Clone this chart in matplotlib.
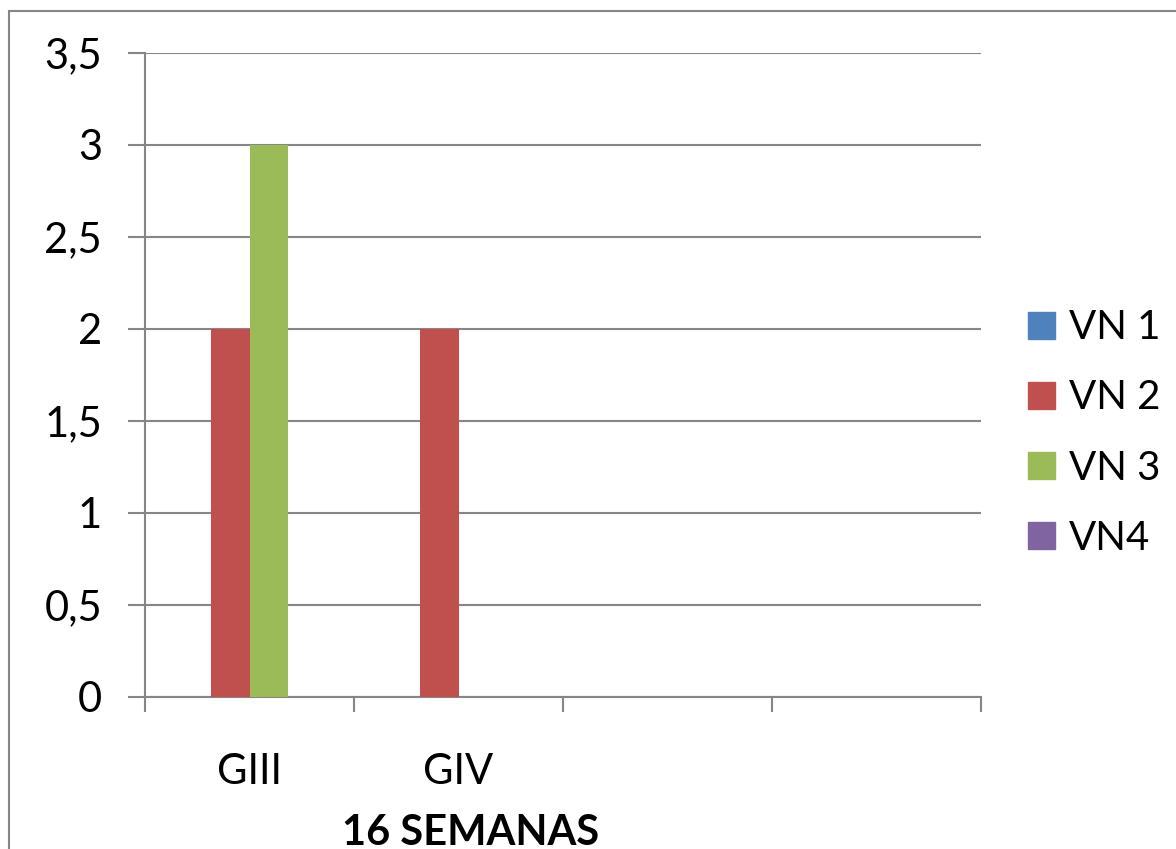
import numpy as np
import matplotlib.pyplot as plt
from matplotlib.patches import Rectangle, Patch

plt.rcParams['font.family'] = ['Lato', 'DejaVu Sans']

categorias = ["GIII", "GIV", "", ""]
series = ["VN 1", "VN 2", "VN 3", "VN4"]
vn1 = [0, 0, 0, 0]
vn2 = [2, 2, 0, 0]
vn3 = [3, 0, 0, 0]
vn4 = [0, 0, 0, 0]
colores = ["#4F81BD", "#C0504D", "#9BBB59", "#8064A2"]
yticks = [0, 0.5, 1, 1.5, 2, 2.5, 3, 3.5]
ylabels = ["0", "0,5", "1", "1,5", "2", "2,5", "3", "3,5"]

W, H = 1176, 849
fig = plt.figure(figsize=(W / 100, H / 100), dpi=100)
ax = fig.add_axes([145 / W, 1 - 697 / H, (981 - 145) / W, (697 - 53) / H])

x = np.arange(len(categorias))
ancho = 0.182
for i, vals in enumerate([vn1, vn2, vn3, vn4]):
    ax.bar(x + (i - 1.5) * ancho, vals, ancho, color=colores[i], zorder=3)

ax.set_xlim(-0.5, len(categorias) - 0.5)
ax.set_ylim(0, 3.5)
ax.set_yticks(yticks)
ax.set_yticklabels(ylabels)
ax.yaxis.grid(True, color="#868686", linewidth=1.5, zorder=0)

ax.set_xticks(x)
ax.set_xticklabels(categorias)
ax.set_xticks(np.arange(-0.5, len(categorias)), minor=True)
ax.tick_params(axis="x", which="major", length=0, pad=40, labelsize=30)
ax.tick_params(axis="x", which="minor", length=11, width=1.5, color="#868686")
ax.tick_params(axis="y", length=12, width=1.5, color="#868686", labelsize=30, pad=19)

for s in ["top", "right"]:
    ax.spines[s].set_visible(False)
ax.spines["left"].set_color("#868686")
ax.spines["bottom"].set_color("#868686")
ax.spines["left"].set_linewidth(1.5)
ax.spines["bottom"].set_linewidth(1.5)

fig.text(471 / W, 1 - 833 / H, "16 SEMANAS", ha="center", va="center",
         fontsize=30, fontweight="bold")

handles = [Patch(color=c) for c in colores]
fig.legend(handles, series, loc="center left", bbox_to_anchor=(1028 / W, 1 - 433 / H),
           frameon=False, fontsize=29, handlelength=0.67, handleheight=0.67,
           handletextpad=0.35, labelspacing=0.82, borderpad=0, borderaxespad=0)

fig.patches.append(Rectangle((9 / W, -0.1), 1.2, 1 - 11 / H + 0.1, transform=fig.transFigure,
                             fill=False, edgecolor="#868686", linewidth=1.5))

fig.savefig("out.png", dpi=100)
